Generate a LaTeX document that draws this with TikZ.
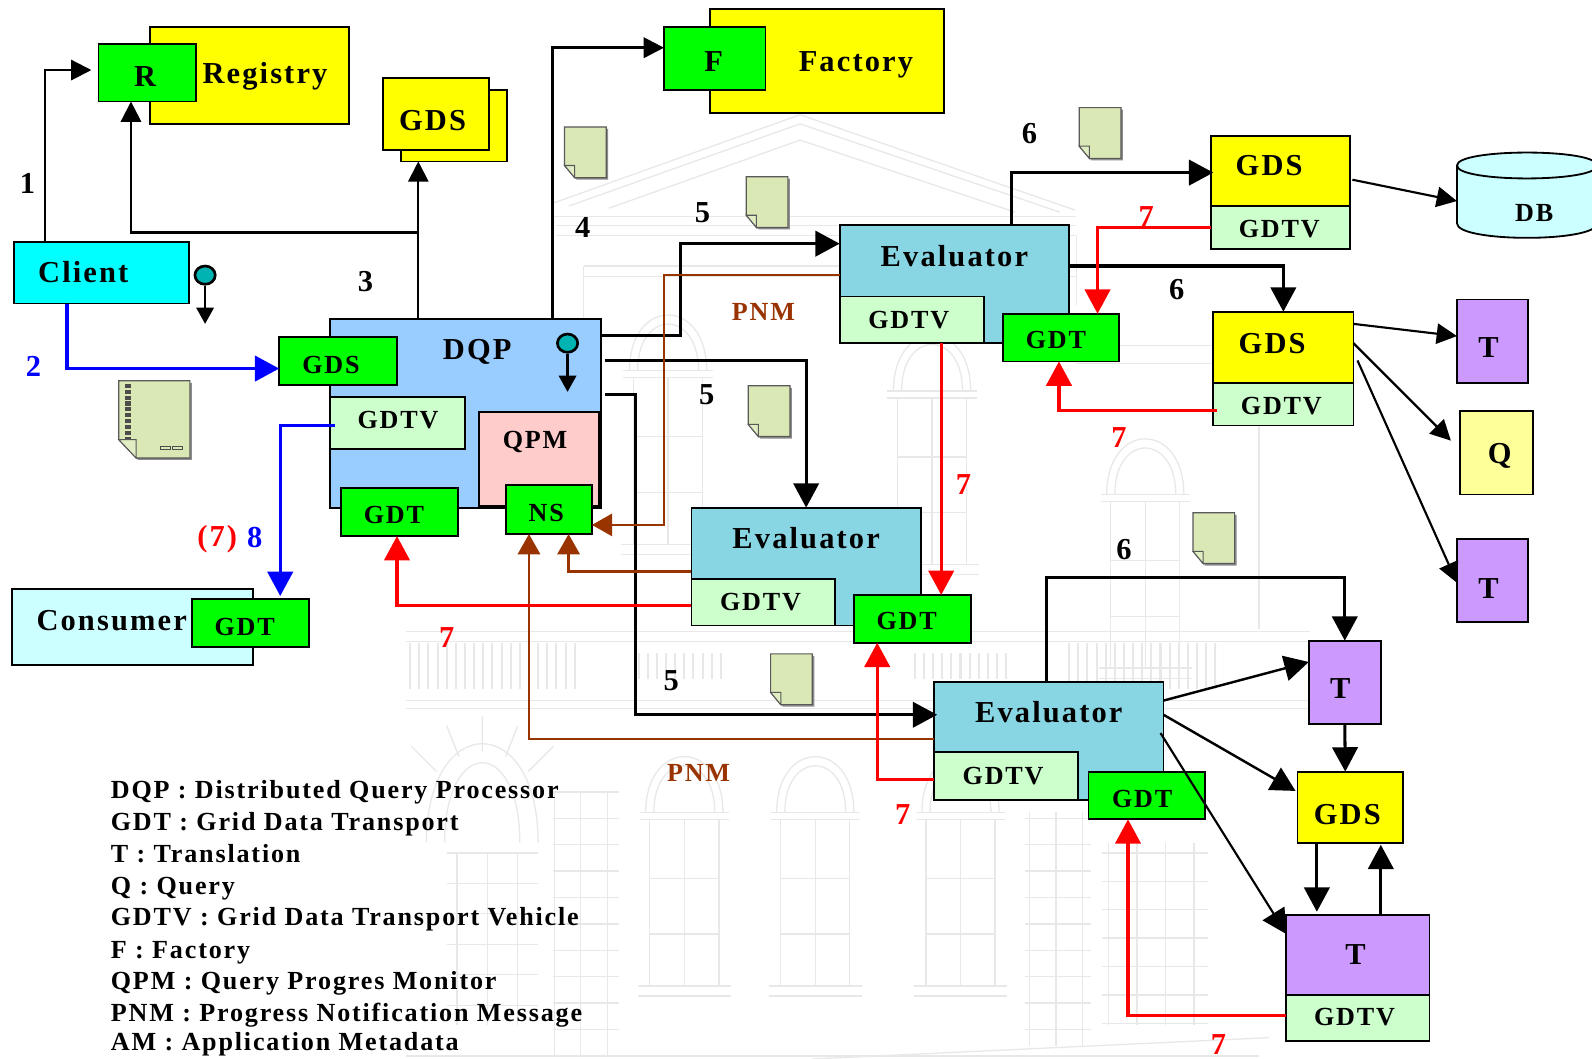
\documentclass[tikz,border=0pt]{standalone}
\usepackage{fontspec}
\setmainfont{Liberation Serif}[LetterSpace=7]
\usetikzlibrary{arrows.meta,shapes.geometric}
\definecolor{boxyellow}{HTML}{FFFF00}
\definecolor{boxcyan}{HTML}{00FFFF}
\definecolor{gdtgreen}{HTML}{00FF00}
\definecolor{gdtvgreen}{HTML}{CCFFCC}
\definecolor{dqpblue}{HTML}{99CCFF}
\definecolor{evalblue}{HTML}{88D6E3}
\definecolor{paleblue}{HTML}{CCFFFF}
\definecolor{tpurple}{HTML}{CC99FF}
\definecolor{qpmpink}{HTML}{FFCCCC}
\definecolor{qyellow}{HTML}{FFFF99}
\definecolor{pnmbrown}{HTML}{993300}
\definecolor{notegreen}{HTML}{D9E8B4}
\definecolor{keyteal}{HTML}{00B3B3}
\definecolor{pureblue}{HTML}{0000FF}
\definecolor{purered}{HTML}{FF0000}
\tikzset{
  box/.style={draw=black, line width=1.8pt, anchor=north west, inner sep=0pt, outer sep=0pt},
  yellowbox/.style={box, fill=boxyellow},
  greenbox/.style={box, fill=gdtgreen},
  gdtvbox/.style={box, fill=gdtvgreen},
  evalbox/.style={box, fill=evalblue},
  purplebox/.style={box, fill=tpurple},
  lab/.style={font=\fontsize{30}{30}\selectfont\bfseries, inner sep=0pt},
  smalllab/.style={font=\fontsize{25.7}{26}\selectfont\bfseries, inner sep=0pt},
  legendlab/.style={font=\fontsize{25.7}{26}\selectfont\bfseries, inner sep=0pt, anchor=base west},
  thinflow/.style={draw=black, line width=2.1pt, -{Triangle[length=20pt,width=20pt]}},
  flow/.style={draw=black, line width=3pt, -{Triangle[length=24pt,width=25pt]}},
  redflow/.style={draw=purered, line width=3.2pt, -{Triangle[length=24pt,width=25pt]}},
  blueflow/.style={draw=pureblue, line width=3.2pt, -{Triangle[length=24pt,width=25pt]}},
  brownflow/.style={draw=pnmbrown, line width=2.4pt, -{Triangle[length=20pt,width=22pt]}},
  keyhead/.style={ellipse, draw=black, line width=2.6pt, fill=keyteal, minimum width=20pt, minimum height=18pt, inner sep=0pt},
  keyflow/.style={draw=black, line width=2.6pt, -{Triangle[length=16pt,width=17pt]}},
  bgline/.style={draw=black!9, line width=1.3pt},
  bgbars/.style={draw=black!9, line width=#1, dash pattern=on 2pt off 7pt},
  smallnote/.pic={
    \fill[black!45] (2,2) -- (43,2) -- (43,52) -- (12,52) -- (2,40) -- cycle;
    \draw[draw=black!65, fill=notegreen, line width=1.2pt] (0,0) -- (41,0) -- (41,50) -- (10,50) -- (0,38) -- cycle;
    \draw[draw=black!65, fill=notegreen!80, line width=1pt] (0,38) -- (10,38) -- (10,50) -- cycle;
  },
  bignote/.pic={
    \fill[black!45] (2,2) -- (72,2) -- (72,78) -- (19,78) -- (2,60) -- cycle;
    \draw[draw=black!65, fill=notegreen, line width=1.2pt] (0,0) -- (70,0) -- (70,76) -- (17,76) -- (0,58) -- cycle;
    \draw[draw=black!65, fill=notegreen!80, line width=1pt] (0,58) -- (17,58) -- (17,76) -- cycle;
    \draw[black!70, line width=6pt, dash pattern=on 4pt off 1.8pt] (9,3) -- (9,57);
    \draw[black!70, line width=1pt] (41,65) rectangle (51,68) (53,65) rectangle (63,68);
  },
  archwindow/.pic={
    \draw[bgline] (0,55) .. controls (0,-18) and (76,-18) .. (76,55);
    \draw[bgline] (8,55) .. controls (8,-6) and (68,-6) .. (68,55);
    \draw[bgline] (-6,55) -- (82,55) (-6,62) -- (82,62);
    \draw[bgline] (4,62) rectangle (72,226);
    \draw[bgline] (38,62) -- (38,226) (4,120) -- (72,120) (4,175) -- (72,175);
    \draw[bgline] (-8,226) -- (84,226) (-8,236) -- (84,236);
  },
}

\begin{document}
\begin{tikzpicture}[x=1pt,y=-1pt]
\useasboundingbox (0,0) rectangle (1568,1043);
% building behind the diagram
\draw[bgline] (545,200) -- (788,113) -- (1059,207);
\draw[bgline] (560,203) -- (788,122) -- (1044,209);
\draw[bgline] (600,205) -- (788,138) -- (1000,209);
\draw[bgline] (545,213) -- (1060,213);
\draw[bgline] (548,222) -- (1060,222);
\draw[bgline] (548,232) -- (1060,232);
\draw[bgline] (575,262) -- (1060,262);
\draw[bgline] (575,272) -- (1060,272);
\draw[bgline] (575,262) -- (575,490);
\draw[bgline] (1060,232) -- (1060,300);
\draw[bgline] (1060,340) -- (1240,340);
\draw[bgline] (1060,358) -- (1240,358);
\draw[bgline] (1240,340) -- (1240,620);
\pic at (620,310) {archwindow};
\pic at (880,330) {archwindow};
\pic at (1090,432) {archwindow};
\draw[bgline] (400,622) -- (1290,622);
\draw[bgline] (400,632) -- (1290,632);
\draw[bgbars=46pt] (403,656) -- (568,656);
\draw[bgbars=26pt] (628,656) -- (711,656);
\draw[bgbars=26pt] (900,656) -- (992,656);
\draw[bgbars=46pt] (1052,656) -- (1205,656);
\draw[bgline] (400,690) -- (1290,690);
\draw[bgline] (400,698) -- (1290,698);
\pic at (636,745) {archwindow};
\pic at (765,745) {archwindow};
\pic at (908,745) {archwindow};
\draw[bgline] (420,830) .. controls (420,700) and (530,700) .. (530,830);
\draw[bgline] (438,830) .. controls (438,725) and (512,725) .. (512,830);
\draw[bgline] (430,760) -- (405,735) (452,745) -- (440,715) (475,740) -- (475,705) (498,745) -- (510,715) (520,760) -- (545,735);
\draw[bgline, step=30pt] (440,840) grid (530,1010);
\draw[bgline, step=26pt] (545,780) grid (610,1040);
\draw[bgline, step=28pt] (1085,830) grid (1190,1010);
\draw[bgline, step=26pt] (1010,800) grid (1075,1030);
\draw[bgline] (400,1040) -- (1240,1040);
\draw[bgline] (800,1043) -- (1250,1022);
% boxes
\node[yellowbox, minimum width=196pt, minimum height=95pt] (registry) at (148,27) {};
\node[greenbox, minimum width=96pt, minimum height=57pt] (regr) at (97,43) {};
\node[yellowbox, minimum width=104pt, minimum height=70pt] (gdsback) at (395,89) {};
\node[yellowbox, minimum width=105pt, minimum height=71pt] (gdsfront) at (377,77) {};
\node[yellowbox, minimum width=231pt, minimum height=102pt] (factory) at (699,9) {};
\node[greenbox, minimum width=100pt, minimum height=62pt] (factf) at (654,27) {};
\node[box, fill=boxcyan, minimum width=172pt, minimum height=61pt] (client) at (14,238) {};
\node[box, fill=dqpblue, minimum width=267pt, minimum height=186pt] (dqp) at (325,314) {};
\node[greenbox, minimum width=116pt, minimum height=47pt] (dqpgds) at (275,332) {};
\node[gdtvbox, minimum width=133pt, minimum height=51pt] (dqpgdtv) at (325,391) {};
\node[box, fill=qpmpink, minimum width=118pt, minimum height=92pt] (dqpqpm) at (472,406) {};
\node[greenbox, minimum width=115pt, minimum height=47pt] (dqpgdt) at (336,481) {};
\node[greenbox, minimum width=85pt, minimum height=48pt] (dqpns) at (498,478) {};
\node[box, fill=paleblue, minimum width=237pt, minimum height=75pt] (consumer) at (12,580) {};
\node[greenbox, minimum width=115pt, minimum height=47pt] (consgdt) at (189,590) {};
\node[evalbox, minimum width=226pt, minimum height=116pt] (eval1) at (827,222) {};
\node[gdtvbox, minimum width=142pt, minimum height=46pt] (eval1gdtv) at (827,292) {};
\node[greenbox, minimum width=114pt, minimum height=47pt] (eval1gdt) at (988,309) {};
\node[evalbox, minimum width=226pt, minimum height=116pt] (eval2) at (681,500) {};
\node[gdtvbox, minimum width=141pt, minimum height=46pt] (eval2gdtv) at (681,570) {};
\node[greenbox, minimum width=115pt, minimum height=47pt] (eval2gdt) at (841,586) {};
\node[evalbox, minimum width=226pt, minimum height=116pt] (eval3) at (920,672) {};
\node[gdtvbox, minimum width=142pt, minimum height=47pt] (eval3gdtv) at (920,741) {};
\node[greenbox, minimum width=115pt, minimum height=47pt] (eval3gdt) at (1072,760) {};
\node[yellowbox, minimum width=137pt, minimum height=69pt] (gds1) at (1193,134) {};
\node[gdtvbox, minimum width=137pt, minimum height=42pt] (gds1gdtv) at (1193,203) {};
\node[yellowbox, minimum width=138pt, minimum height=70pt] (gds2) at (1195,307) {};
\node[gdtvbox, minimum width=138pt, minimum height=42pt] (gds2gdtv) at (1195,377) {};
\node[yellowbox, minimum width=104pt, minimum height=70pt] (gds3) at (1278,760) {};
\node[purplebox, minimum width=70pt, minimum height=82pt] (t1) at (1435,295) {};
\node[box, fill=qyellow, minimum width=72pt, minimum height=82pt] (q) at (1438,405) {};
\node[purplebox, minimum width=70pt, minimum height=82pt] (t2) at (1435,531) {};
\node[purplebox, minimum width=71pt, minimum height=82pt] (t3) at (1289,631) {};
\node[purplebox, minimum width=141pt, minimum height=79pt] (t4) at (1267,901) {};
\node[gdtvbox, minimum width=141pt, minimum height=45pt] (t4gdtv) at (1267,980) {};
\draw[draw=black, fill=paleblue, line width=1.8pt] (1435,163) .. controls (1435,146) and (1573,146) .. (1573,163) -- (1573,220) .. controls (1573,239) and (1435,239) .. (1435,220) -- cycle;
\draw[draw=black, line width=1.8pt] (1435,163) .. controls (1435,180) and (1573,180) .. (1573,163);
\coordinate (dbwest) at (1435,198);
% pages
\pic at (556,125) {smallnote};
\pic at (735,174) {smallnote};
\pic at (737,380) {smallnote};
\pic at (759,644) {smallnote};
\pic at (1063,106) {smallnote};
\pic at (1175,505) {smallnote};
\pic at (117,375) {bignote};
% black connectors
\draw[thinflow, shorten >=7pt] ([xshift=-56]client.north) |- ([yshift=2.5]regr.west);
\draw[thinflow] ([xshift=-46.5]dqp.north) -- ([xshift=-35]gdsback.south);
\coordinate (regbranch) at (412,229);
\draw[thinflow] (regbranch) -| ([xshift=-16]regr.south);
\draw[thinflow, line width=2.6pt] ([xshift=85.5]dqp.north) |- ([yshift=11]factf.west);
\draw[flow] ([yshift=77]dqp.east) -- ++(78,0) |- ([yshift=40]eval1.west);
\draw[flow] ([xshift=4,yshift=52]dqp.east) -| (eval2.north);
\draw[flow] ([xshift=4,yshift=18]dqp.east) -- ++(30,0) |- ([xshift=3,yshift=26]eval3.west);
\draw[flow] ([xshift=56]eval1.north) |- ([xshift=2,yshift=-1.5]gds1.west);
\draw[flow] ([yshift=18]eval1.east) -| (gds2.north);
\draw[flow] ([xshift=-2]eval3.north) -- ++(0,-103) -| (t3.north);
\draw[flow, line width=2.4pt] ([yshift=40]eval3.east) -- ([yshift=20]t3.west);
\draw[flow, line width=2.4pt] ([yshift=26]eval3.east) -- ([xshift=-2,yshift=16]gds3.west);
\draw[flow, line width=2.1pt] ([xshift=-3,yshift=8]eval3.east) -- ([yshift=20.5]t4.west);
\draw[flow] (t3.south) -- ([xshift=-5]gds3.north);
\draw[flow] ([xshift=-33]gds3.south) -- ([xshift=-40.5,yshift=3]t4.north);
\draw[flow] ([xshift=22.5]t4.north) -- ([xshift=30,yshift=-2]gds3.south);
\draw[thinflow] ([xshift=2,yshift=-8.5]gds1.east) -- (dbwest);
\draw[thinflow] ([yshift=23]gds2.east) -- ([yshift=5]t1.west);
\draw[thinflow] ([yshift=4]gds2.east) -- ([xshift=-9,yshift=12]q.west);
\draw[thinflow] ([xshift=4,yshift=-13]gds2.east) -- ([yshift=-2]t2.west);
% brown, red and blue connectors
\draw[brownflow] ([yshift=9]eval1.west) -- ++(-173,0) |- ([yshift=-15]dqpns.east);
\draw[brownflow] ([yshift=-5]eval2.west) -| ([xshift=19.5]dqpns.south);
\draw[brownflow] ([yshift=2]eval3.west) -| ([xshift=-19.5]dqpns.south);
\draw[redflow] ([yshift=-3]eval2gdtv.west) -| ([xshift=-2.5]dqpgdt.south);
\draw[redflow] (gds1gdtv.west) -| ([xshift=36]eval1gdt.north);
\draw[redflow] ([xshift=4,yshift=-6]gds2gdtv.west) -| ([xshift=-2]eval1gdt.south);
\draw[redflow] ([xshift=29]eval1gdtv.south) -- ([xshift=28.5]eval2gdt.north);
\draw[redflow] ([yshift=-3.5]eval3gdtv.west) -| ([xshift=-34.5]eval2gdt.south);
\draw[redflow] ([yshift=2.5]t4gdtv.west) -| ([xshift=-18.5]eval3gdt.south);
\draw[blueflow] ([xshift=-34]client.south) |- ([yshift=-7.5]dqpgds.west);
\draw[blueflow] ([xshift=5,yshift=-2.5]dqpgdtv.west) -| ([xshift=29.5,yshift=3]consgdt.north);
% keys
\node[keyhead] (clientkey) at (202,271) {};
\coordinate (clientkeyend) at (202,319);
\draw[keyflow] (clientkey) -- (clientkeyend);
\node[keyhead] (dqpkey) at (559,338) {};
\coordinate (dqpkeyend) at (559,386);
\draw[keyflow] (dqpkey) -- (dqpkeyend);
% box labels
\node[lab] (registrylab) at (261,75) {Registry};
\node[lab] (regrlab) at (143,75) {R};
\node[lab] (gdsfrontlab) at (426,119) {GDS};
\node[lab] (factorylab) at (843,64) {Factory};
\node[lab] (factflab) at (703,61) {F};
\node[lab] (clientlab) at (82,268) {Client};
\node[lab] (dqplab) at (470,347) {DQP};
\node[smalllab] (dqpgdslab) at (326,359) {GDS};
\node[smalllab] (dqpgdtvlab) at (392,414) {GDTV};
\node[smalllab] (dqpqpmlab) at (527,435) {QPM};
\node[smalllab] (dqpgdtlab) at (388,507) {GDT};
\node[smalllab] (dqpnslab) at (538,505) {NS};
\node[lab] (consumerlab) at (110,611) {Consumer};
\node[smalllab] (consgdtlab) at (241,618) {GDT};
\node[lab] (eval1lab) at (940,252) {Evaluator};
\node[smalllab] (eval1gdtvlab) at (895,315) {GDTV};
\node[smalllab] (eval1gdtlab) at (1040,335) {GDT};
\node[lab] (eval2lab) at (794,530) {Evaluator};
\node[smalllab] (eval2gdtvlab) at (749,593) {GDTV};
\node[smalllab] (eval2gdtlab) at (893,612) {GDT};
\node[lab] (eval3lab) at (1033,701) {Evaluator};
\node[smalllab] (eval3gdtvlab) at (988,764) {GDTV};
\node[smalllab] (eval3gdtlab) at (1125,787) {GDT};
\node[lab] (gds1lab) at (1250,163) {GDS};
\node[smalllab] (gds1gdtvlab) at (1260,226) {GDTV};
\node[lab] (gds2lab) at (1253,338) {GDS};
\node[smalllab] (gds2gdtvlab) at (1262,400) {GDTV};
\node[lab] (gds3lab) at (1327,802) {GDS};
\node[smalllab] (dblab) at (1511,210) {DB};
\node[lab] (t1lab) at (1466,342) {T};
\node[lab] (qlab) at (1477,449) {Q};
\node[lab] (t2lab) at (1466,580) {T};
\node[lab] (t3lab) at (1320,678) {T};
\node[lab] (t4lab) at (1335,940) {T};
\node[smalllab] (t4gdtvlab) at (1334,1002) {GDTV};
% step numbers
\node[lab] (step1) at (27,181) {1};
\node[lab, text=pureblue] (step2) at (33,361) {2};
\node[lab] (step3) at (360,277) {3};
\node[lab] (step4) at (574,224) {4};
\node[lab] (step5a) at (692,209) {5};
\node[lab] (step5b) at (696,389) {5};
\node[lab] (step5c) at (661,670) {5};
\node[lab] (step6a) at (1014,132) {6};
\node[lab] (step6b) at (1159,285) {6};
\node[lab] (step6c) at (1107,541) {6};
\node[lab, text=purered] (step7a) at (1129,213) {7};
\node[lab, text=purered] (step7b) at (1102,431) {7};
\node[lab, text=purered] (step7c) at (949,477) {7};
\node[lab, text=purered] (step7d) at (440,628) {7};
\node[lab, text=purered] (step7e) at (889,802) {7};
\node[lab, text=purered] (step7f) at (1200,1029) {7};
\node[lab, text=purered] (step7g) at (214,531) {(7)};
\node[lab, text=pureblue] (step8) at (251,529) {8};
\node[smalllab, text=pnmbrown] (pnma) at (752,307) {PNM};
\node[smalllab, text=pnmbrown] (pnmb) at (688,761) {PNM};
% legend
\node[legendlab] (leg1) at (109,786) {DQP : Distributed Query Processor};
\node[legendlab] (leg2) at (109,818) {GDT : Grid Data Transport};
\node[legendlab] (leg3) at (109,849) {T : Translation};
\node[legendlab] (leg4) at (109,881) {Q : Query};
\node[legendlab] (leg5) at (109,912) {GDTV : Grid Data Transport Vehicle};
\node[legendlab] (leg6) at (109,944) {F : Factory};
\node[legendlab] (leg7) at (109,975) {QPM : Query Progres Monitor};
\node[legendlab] (leg8) at (109,1006) {PNM : Progress Notification Message};
\node[legendlab] (leg9) at (109,1035) {AM : Application Metadata};
\end{tikzpicture}
\end{document}
